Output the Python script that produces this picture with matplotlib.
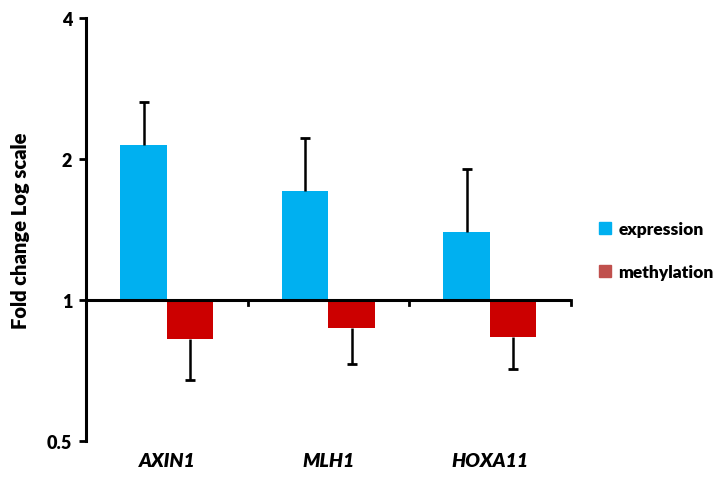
import matplotlib
matplotlib.use("Agg")
import matplotlib.pyplot as plt
import matplotlib.patches as mpatches
import numpy as np

genes = ["AXIN1", "MLH1", "HOXA11"]
expression = [2.14, 1.71, 1.395]
expression_err_top = [2.64, 2.22, 1.90]
methylation = [0.823, 0.871, 0.832]
methylation_err_bottom = [0.673, 0.730, 0.712]
yticks = [0.5, 1, 2, 4]
ytick_labels = ["0.5", "1", "2", "4"]

blue = "#00B0F0"
red = "#CC0000"
red_legend = "#C0504D"

plt.rcParams['font.family'] = ['Lato', 'DejaVu Sans']

fig = plt.figure(figsize=(7.17, 4.81), dpi=100)
ax = fig.add_axes([0.12, 0.0817, 0.6757, 0.8788])

x = np.arange(len(genes))
w = 0.288
base = 1.0

ax.bar(x - w/2, np.array(expression) - base, bottom=base, width=w, color=blue, zorder=2)
ax.bar(x + w/2, np.array(methylation) - base, bottom=base, width=w, color=red, zorder=2)

# one-sided error bars
ax.vlines(x - w/2, expression, expression_err_top, color='black', lw=1.8, zorder=3)
ax.plot(x - w/2, expression_err_top, ls='none', marker='_', ms=7, mew=2, color='black', zorder=3)
ax.vlines(x + w/2, methylation_err_bottom, methylation, color='black', lw=1.8, zorder=3)
ax.plot(x + w/2, methylation_err_bottom, ls='none', marker='_', ms=7, mew=2, color='black', zorder=3)

ax.set_yscale('log', base=2)
ax.set_ylim(0.5, 4)
ax.set_xlim(-0.5, 2.5)
ax.set_yticks(yticks)
ax.set_yticklabels(ytick_labels, fontsize=13, fontweight='heavy')
ax.yaxis.set_minor_locator(matplotlib.ticker.NullLocator())
ax.tick_params(axis='y', direction='out', length=5, width=2, pad=5)

for s in ['top', 'right', 'bottom']:
    ax.spines[s].set_visible(False)
ax.spines['left'].set_linewidth(2.2)

# baseline at 1 with tick marks between categories
ax.axhline(1, color='black', lw=2.2, zorder=4)
ax.set_xticks([])
for xb in [-0.5, 0.5, 1.5, 2.5]:
    ax.plot([xb, xb], [1, 0.975], color='black', lw=2, zorder=4, clip_on=False)

for xi, g in zip(x, genes):
    ax.text(xi, 0.5 * 0.905, g, ha='center', va='center', fontsize=14,
            fontweight='heavy', fontstyle='italic', transform=ax.transData, clip_on=False)

ax.set_ylabel("Fold change Log scale", fontsize=14.5, fontweight='heavy', labelpad=12)

handles = [mpatches.Patch(color=blue, label='expression'),
           mpatches.Patch(color=red_legend, label='methylation')]
fig.legend(handles=handles, loc='center left', bbox_to_anchor=(0.826, 0.477),
           frameon=False, handlelength=0.7, handleheight=0.7, borderaxespad=0,
           handletextpad=0.4, labelspacing=1.6, prop={'weight': 'heavy', 'size': 12.5})

fig.savefig("out.png", dpi=100)
